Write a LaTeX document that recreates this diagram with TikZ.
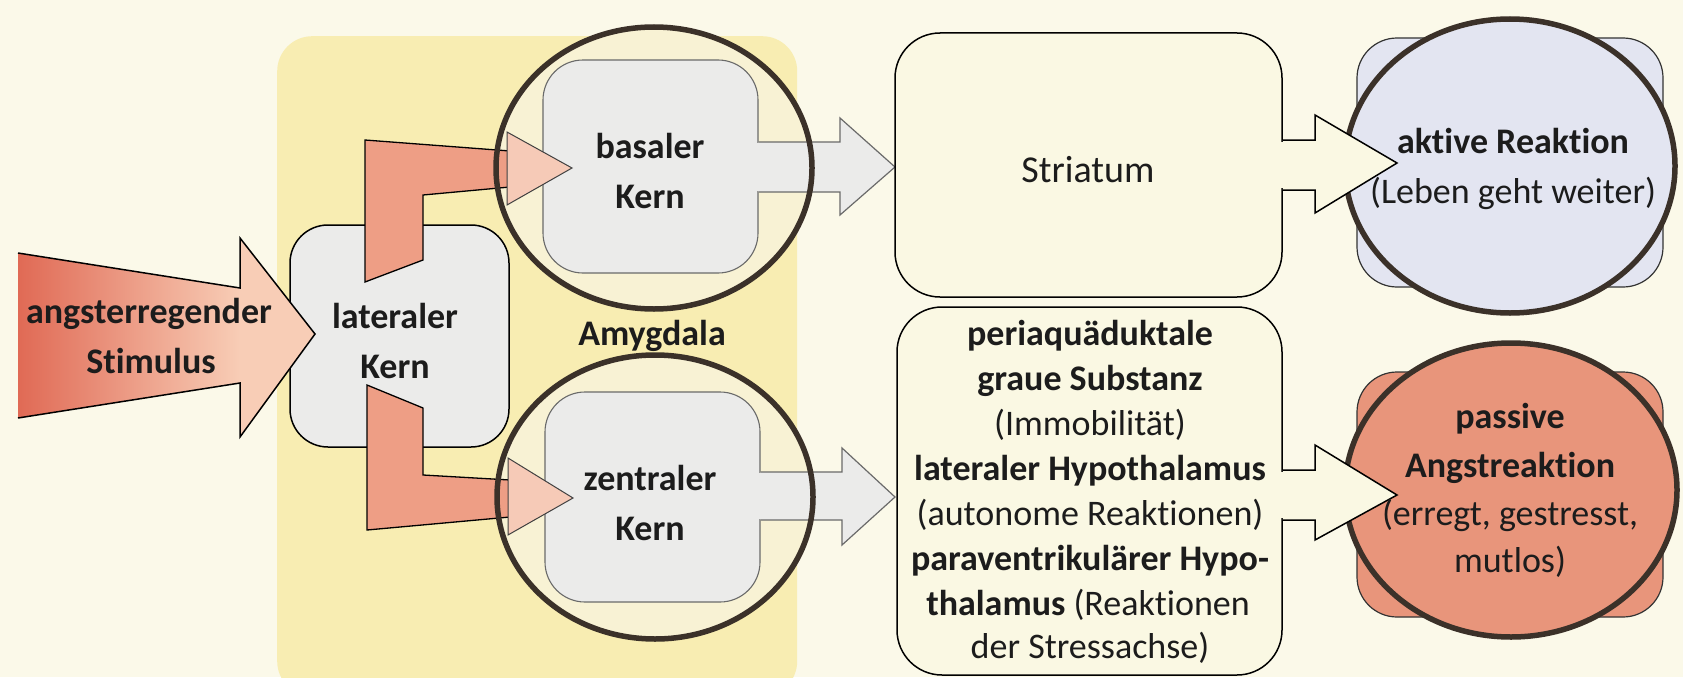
\documentclass[tikz,border=0pt]{standalone}
\usepackage{fontspec}
\setmainfont{Carlito}[Ligatures={NoCommon}]
\usetikzlibrary{shapes.geometric}
\definecolor{bg}{HTML}{FBF9E9}
\definecolor{amy}{HTML}{F8EDB2}
\definecolor{grayfill}{HTML}{EBEBEA}
\definecolor{ringc}{HTML}{3B3129}
\definecolor{ellfill}{HTML}{F8F2D4}
\definecolor{stimL}{HTML}{E06A55}
\definecolor{stimR}{HTML}{F8CDB6}
\definecolor{lred}{HTML}{EE9E85}
\definecolor{lhead}{HTML}{F6CAB7}
\definecolor{cream}{HTML}{FAF8E3}
\definecolor{lav}{HTML}{E3E5F1}
\definecolor{salmon}{HTML}{E8957B}
\definecolor{txt}{HTML}{1C1C1C}
\definecolor{innerline}{HTML}{6A6A6A}
\begin{document}
\begin{tikzpicture}[x=1pt,y=-1pt,
  lbl/.style={anchor=base, inner sep=0pt, text=txt, font=\fontsize{36}{45}\selectfont},
  lblb/.style={anchor=base, inner sep=0pt, text=txt, font=\fontsize{36}{45}\selectfont\bfseries},
  outl/.style={draw=black, line width=1.5pt, line join=miter},
  ringline/.style={draw=ringc, line width=5.5pt},
  innerbox/.style={fill=grayfill, draw=innerline, line width=1.1pt, rounded corners=40pt, inner sep=0pt},
  bigbox/.style={fill=cream, draw=black, line width=1.5pt, rounded corners=45pt, inner sep=0pt},
  reactbox/.style={draw=black!80, line width=1.2pt, rounded corners=40pt, inner sep=0pt},
  ell/.style={ellipse, inner sep=0pt}
]
\path[fill=bg] (0,0) rectangle (1683,677);
\useasboundingbox (0,0) rectangle (1683,677);

% Amygdala region
\node[fill=amy, rounded corners=35pt, minimum width=520pt, minimum height=660pt, inner sep=0pt, anchor=north west] (amyg) at (277,36) {};

% ellipse fills
\node[ell, fill=ellfill, minimum width=316pt, minimum height=282pt] (basE) at (654,168) {};
\node[ell, fill=ellfill, minimum width=316pt, minimum height=284pt] (zenE) at (655,497) {};

% lateral nucleus
\node[fill=grayfill, outl, rounded corners=38pt, minimum width=219pt, minimum height=222pt, inner sep=0pt] (lat) at (399.5,336) {};

% stimulus arrow
\shade[left color=stimL, right color=stimR] (18,253) -- (240,288) -- (240,383) -- (18,418) -- cycle;
\fill[stimR] (240,238) -- (315,334) -- (240,437) -- cycle;
\draw[outl] (18,253) -- (240,288) -- (240,238) -- (315,334) -- (240,437) -- (240,383) -- (18,418);

% inner boxes of basal / central nucleus
\node[innerbox, minimum width=215pt, minimum height=213pt] (basR) at (650.5,166.5) {};
\node[innerbox, minimum width=215pt, minimum height=210pt] (zenR) at (652.5,497) {};

% arrows basal -> Striatum, central -> lower box
\path[fill=grayfill, draw=innerline, line width=1.2pt, line join=miter] (basR.east |- 0,142) -- (840,142) -- (840,118) -- (895,167) -- (840,215) -- (840,192) -- (basR.east |- 0,192);
\fill[grayfill] (755,143.2) rectangle (761,190.8);
\path[fill=grayfill, draw=innerline, line width=1.2pt, line join=miter] (zenR.east |- 0,472) -- (842,472) -- (842,448) -- (895,497) -- (842,545) -- (842,520) -- (zenR.east |- 0,520);
\fill[grayfill] (757,473.2) rectangle (763,518.8);

% L-shaped arrows lateral -> basal / central
\filldraw[fill=lred, outl, line width=1.3pt] (365,282) -- (365,140) -- (510,151) -- (510,187) -- (423,195) -- (423,260) -- cycle;
\filldraw[fill=lhead, draw=black!75, line width=1pt] (507,132) -- (572,168) -- (507,205) -- cycle;
\filldraw[fill=lred, outl, line width=1.3pt] (367,385) -- (423,408) -- (423,475) -- (510,480) -- (510,517) -- (367,530) -- cycle;
\filldraw[fill=lhead, draw=black!75, line width=1pt] (508,458) -- (573,498) -- (508,535) -- cycle;

% rings
\draw[ringline] (basE.center) ellipse [x radius=158, y radius=141];
\draw[ringline] (zenE.center) ellipse [x radius=158, y radius=142];

% target boxes
\node[bigbox, minimum width=387pt, minimum height=264pt] (str) at (1088.5,165) {};
\node[bigbox, minimum width=385pt, minimum height=368pt] (pag) at (1089.5,491) {};

% reaction shapes
\node[reactbox, fill=lav, minimum width=306pt, minimum height=249pt] (aktR) at (1510,162.5) {};
\node[ell, fill=lav, ringline, minimum width=330pt, minimum height=294pt] (aktE) at (1510,166) {};
\node[reactbox, fill=salmon, minimum width=306pt, minimum height=245pt] (pasR) at (1510,494.5) {};
\node[ell, fill=salmon, ringline, minimum width=332pt, minimum height=294pt] (pasE) at (1511,490) {};

% arrows Striatum -> aktiv, lower box -> passiv
\path[fill=cream, draw=black, line width=1.5pt, line join=miter] (str.east |- 0,140) -- (1315,140) -- (1315,115) -- (1397,163) -- (1315,213) -- (1315,190) -- (str.east |- 0,190);
\fill[cream] (1278,141.6) rectangle (1286,188.4);
\path[fill=cream, draw=black, line width=1.5pt, line join=miter] (pag.east |- 0,470) -- (1315,470) -- (1315,445) -- (1397,495) -- (1315,540) -- (1315,520) -- (pag.east |- 0,520);
\fill[cream] (1278,471.6) rectangle (1286,518.4);

% texts
\node[lblb] (s1) at (149,323) {angsterregender};
\node[lblb] (s2) at (151,373) {Stimulus};
\node[lblb] (l1) at (395,328) {lateraler};
\node[lblb] (l2) at (395,378) {Kern};
\node[lblb] (b1) at (650,158) {basaler};
\node[lblb] (b2) at (650,208) {Kern};
\node[lblb] (am) at (652,345) {Amygdala};
\node[lblb] (z1) at (650,490) {zentraler};
\node[lblb] (z2) at (650,540) {Kern};
\node[lbl, font=\fontsize{38}{45}\selectfont] (st) at (1088,182) {Striatum};
\node[lblb] (p1) at (1090,345) {periaquäduktale};
\node[lblb] (p2) at (1090,390) {graue Substanz};
\node[lbl] (p3) at (1090,435) {(Immobilität)};
\node[lblb] (p4) at (1090,480) {lateraler Hypothalamus};
\node[lbl] (p5) at (1090,525) {(autonome Reaktionen)};
\node[lblb] (p6) at (1090,570) {paraventrikulärer Hypo-};
\node[lbl] (p7) at (1088,615) {\textbf{thalamus} (Reaktionen};
\node[lbl] (p8) at (1090,658) {der Stressachse)};
\node[lblb] (a1) at (1513,153) {aktive Reaktion};
\node[lbl] (a2) at (1513,203) {(Leben geht weiter)};
\node[lblb] (q1) at (1510,428) {passive};
\node[lblb] (q2) at (1510,477) {Angstreaktion};
\node[lbl] (q3) at (1510,525) {(erregt, gestresst,};
\node[lbl] (q4) at (1510,572) {mutlos)};
\end{tikzpicture}
\end{document}
